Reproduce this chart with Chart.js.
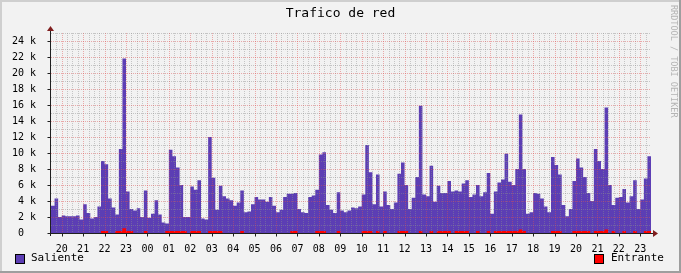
<!DOCTYPE html>
<html>
<head>
<meta charset="utf-8">
<script src="https://cdn.jsdelivr.net/npm/chart.js@4"></script>
<style>
    html, body { margin: 0; padding: 0; background: #f2f2f2; }
    #lienzo { position: absolute; left: 0; top: 0; }
    .borde { position: absolute; }
    .texto { position: absolute; font-family: "DejaVu Sans Mono", monospace; color: #000; white-space: pre; }
    .caja { position: absolute; width: 8px; height: 8px; border: 1px solid #000; }
</style>
</head>
<body>
<canvas id="lienzo" width="681" height="273"></canvas>

<div class="borde" style="left:0;top:0;width:681px;height:2px;background:#cfcfcf"></div>
<div class="borde" style="left:0;top:0;width:2px;height:273px;background:#cfcfcf"></div>
<div class="borde" style="left:679px;top:0;width:2px;height:273px;background:#9e9e9e"></div>
<div class="borde" style="left:0;top:271px;width:681px;height:2px;background:#9e9e9e"></div>

<div class="texto" style="left:0;width:681px;top:5px;text-align:center;font-size:13px">Trafico de red</div>
<div class="texto" style="left:669px;top:5px;font-size:8.5px;color:#b4b4b4;writing-mode:vertical-rl">RRDTOOL / TOBI OETIKER</div>

<div class="caja" style="left:15px;top:254px;background:#5c3eb4"></div>
<div class="texto" style="left:31px;top:251px;font-size:11px">Saliente</div>
<div class="caja" style="left:594px;top:254px;background:#ff0000"></div>
<div class="texto" style="left:611px;top:251px;font-size:11px">Entrante</div>

<script>
// etiquetas de hora (desde las 20 hasta las 23 del dia siguiente)
var horas = ['20', '21', '22', '23', '00', '01', '02', '03', '04', '05', '06', '07', '08', '09',
             '10', '11', '12', '13', '14', '15', '16', '17', '18', '19', '20', '21', '22', '23'];

// trafico saliente, en miles, una muestra cada 10 minutos desde las 19:30
var saliente = [
    3.4, 4.3, 2.0, 2.2, 2.1, 2.1,
    2.1, 2.2, 1.7, 3.6, 2.5, 1.8,
    2.0, 3.3, 9.0, 8.6, 4.3, 3.2,
    2.3, 10.5, 21.8, 5.2, 3.0, 2.8,
    3.1, 2.0, 5.3, 1.9, 2.4, 4.1,
    2.3, 1.3, 1.2, 10.4, 9.6, 8.2,
    6.0, 2.0, 2.0, 5.8, 5.4, 6.6,
    1.8, 1.7, 12.0, 6.9, 2.9, 5.9,
    4.6, 4.3, 4.1, 3.4, 3.8, 5.3,
    2.6, 2.7, 3.6, 4.5, 4.2, 4.2,
    3.9, 4.5, 3.4, 2.6, 2.9, 4.5,
    4.9, 4.9, 5.0, 3.0, 2.6, 2.5,
    4.5, 4.7, 5.4, 9.8, 10.1, 3.5,
    2.9, 2.5, 5.1, 2.8, 2.6, 2.8,
    3.2, 3.1, 3.3, 4.8, 11.0, 7.6,
    3.6, 7.3, 3.3, 5.2, 3.5, 3.0,
    3.8, 7.4, 8.8, 6.0, 3.0, 4.4,
    7.0, 15.9, 4.8, 4.6, 8.4, 3.9,
    5.9, 5.0, 5.0, 6.5, 5.2, 5.3,
    5.2, 6.2, 6.6, 4.5, 4.8, 6.0,
    4.6, 5.1, 7.5, 2.4, 5.2, 6.3,
    6.7, 9.9, 6.4, 6.0, 8.0, 14.8,
    8.0, 2.4, 2.6, 5.0, 4.9, 4.3,
    3.3, 2.6, 9.5, 8.5, 7.3, 3.5,
    2.1, 3.0, 6.5, 9.3, 8.2, 7.0,
    5.0, 4.0, 10.5, 9.0, 8.0, 15.7,
    6.0, 3.5, 4.4, 4.5, 5.5, 3.8,
    4.6, 6.6, 3.0, 4.2, 6.8, 9.6
];

// trafico entrante, en miles
var entrante = [
    0, 0, 0, 0, 0, 0,
    0, 0, 0, 0, 0, 0,
    0, 0, 0.25, 0.25, 0, 0,
    0.25, 0.25, 0.6, 0.25, 0.25, 0,
    0, 0, 0.25, 0, 0, 0,
    0, 0, 0.25, 0.25, 0.25, 0.25,
    0.25, 0.25, 0, 0.25, 0.25, 0.25,
    0, 0, 0.25, 0.25, 0.25, 0.25,
    0, 0, 0, 0, 0, 0.25,
    0, 0, 0, 0, 0, 0,
    0, 0, 0, 0, 0, 0,
    0, 0.25, 0.25, 0, 0, 0,
    0, 0, 0.25, 0.25, 0.25, 0,
    0, 0, 0.25, 0, 0, 0,
    0, 0, 0, 0.25, 0.25, 0.25,
    0, 0.25, 0, 0.25, 0, 0,
    0, 0.25, 0.25, 0.25, 0, 0,
    0, 0.25, 0, 0, 0.25, 0,
    0.25, 0.25, 0.25, 0.25, 0, 0.25,
    0.25, 0.25, 0.25, 0, 0, 0.25,
    0, 0, 0.25, 0, 0.25, 0.25,
    0.25, 0.25, 0.25, 0.25, 0.25, 0.45,
    0.25, 0, 0, 0, 0, 0,
    0, 0, 0.25, 0.25, 0.25, 0,
    0, 0, 0.25, 0.25, 0.25, 0.25,
    0.25, 0, 0.25, 0.25, 0.25, 0.45,
    0, 0.25, 0, 0, 0.25, 0,
    0, 0.25, 0, 0, 0.25, 0.25
];

var HORA_INICIO = 19.5;
var MUESTRAS_HORA = 6;
var FUENTE = '"DejaVu Sans Mono", monospace';

var CrearPuntos = function (valores) {
    var puntos = [];
    for (var i = 0; i < valores.length; i++) {
        puntos.push({ x: HORA_INICIO + i / MUESTRAS_HORA, y: valores[i] });
    }
    // cierre del ultimo escalon
    puntos.push({ x: HORA_INICIO + valores.length / MUESTRAS_HORA, y: valores[valores.length - 1] });
    return puntos;
};

// rejilla punteada al estilo rrdtool, encima del area
var Rejilla = {
    id: 'rejilla',
    afterDatasetsDraw: function (chart) {
        var ctx = chart.ctx;
        var area = chart.chartArea;
        var ex = chart.scales.x;
        var ye = chart.scales.y;
        var h, v, px, py;

        ctx.save();
        ctx.lineWidth = 1;
        ctx.setLineDash([1, 1]);

        ctx.strokeStyle = 'rgba(143,143,143,0.45)';
        ctx.beginPath();
        for (h = ex.min + 0.25; h < ex.max; h += 0.25) {
            if (h % 1 === 0) continue;
            px = Math.round(ex.getPixelForValue(h)) + 0.5;
            ctx.moveTo(px, area.top);
            ctx.lineTo(px, area.bottom);
        }
        for (v = 1; v <= ye.max; v += 2) {
            py = Math.round(ye.getPixelForValue(v)) + 0.5;
            ctx.moveTo(area.left, py);
            ctx.lineTo(area.right, py);
        }
        ctx.stroke();

        ctx.strokeStyle = 'rgba(222,79,79,0.45)';
        ctx.beginPath();
        for (h = Math.ceil(ex.min); h < ex.max; h += 1) {
            px = Math.round(ex.getPixelForValue(h)) + 0.5;
            ctx.moveTo(px, area.top);
            ctx.lineTo(px, area.bottom);
        }
        for (v = 2; v < ye.max; v += 2) {
            py = Math.round(ye.getPixelForValue(v)) + 0.5;
            ctx.moveTo(area.left, py);
            ctx.lineTo(area.right, py);
        }
        ctx.stroke();
        ctx.restore();
    },
    afterDraw: function (chart) {
        var ctx = chart.ctx;
        var area = chart.chartArea;
        var ex = chart.scales.x;
        var ye = chart.scales.y;
        var izq = area.left - 0.5;
        var base = area.bottom + 0.5;
        var h, v, px, py;

        ctx.save();
        ctx.lineWidth = 1;
        ctx.strokeStyle = '#1f1f1f';
        ctx.beginPath();
        ctx.moveTo(izq, area.bottom + 3);
        ctx.lineTo(izq, area.top - 2);
        ctx.moveTo(area.left - 3, base);
        ctx.lineTo(area.right + 3, base);
        for (v = 0; v < ye.max; v += 2) {
            py = Math.round(ye.getPixelForValue(v)) + 0.5;
            ctx.moveTo(izq - 3, py);
            ctx.lineTo(izq, py);
        }
        for (h = Math.ceil(ex.min); h < ex.max; h += 1) {
            px = Math.round(ex.getPixelForValue(h)) + 0.5;
            ctx.moveTo(px, base);
            ctx.lineTo(px, base + 3);
        }
        ctx.stroke();

        // flechas
        ctx.fillStyle = '#801f1f';
        ctx.beginPath();
        ctx.moveTo(izq, area.top - 7);
        ctx.lineTo(izq - 3.5, area.top - 2);
        ctx.lineTo(izq + 3.5, area.top - 2);
        ctx.closePath();
        ctx.fill();
        ctx.beginPath();
        ctx.moveTo(area.right + 7, base);
        ctx.lineTo(area.right + 2, base - 3.5);
        ctx.lineTo(area.right + 2, base + 3.5);
        ctx.closePath();
        ctx.fill();
        ctx.restore();
    }
};

var CrearGrafica = function () {
    var lienzo = document.getElementById('lienzo').getContext('2d');
    new Chart(lienzo, {
        type: 'line',
        data: {
            datasets: [{
                label: 'Entrante',
                data: CrearPuntos(entrante),
                stepped: true,
                fill: 'origin',
                backgroundColor: '#ff0000',
                borderWidth: 0,
                pointRadius: 0,
                order: 0
            }, {
                label: 'Saliente',
                data: CrearPuntos(saliente),
                stepped: true,
                fill: 'origin',
                backgroundColor: '#5c3eb4',
                borderWidth: 0,
                pointRadius: 0,
                order: 1
            }]
        },
        options: {
            responsive: false,
            animation: false,
            devicePixelRatio: 1,
            layout: { padding: { top: 33, right: 30, left: 0, bottom: 0 } },
            plugins: { legend: { display: false }, tooltip: { enabled: false } },
            scales: {
                x: {
                    type: 'linear',
                    min: HORA_INICIO,
                    max: HORA_INICIO + saliente.length / MUESTRAS_HORA,
                    grid: { display: false },
                    border: { display: false },
                    afterBuildTicks: function (escala) {
                        escala.ticks = horas.map(function (e, i) { return { value: Math.ceil(HORA_INICIO) + i }; });
                    },
                    afterFit: function (escala) { escala.height = 40; },
                    ticks: {
                        autoSkip: false,
                        maxRotation: 0,
                        padding: 2,
                        color: '#000',
                        font: { family: FUENTE, size: 10 },
                        callback: function (valor, indice) { return horas[indice]; }
                    }
                },
                y: {
                    min: 0,
                    max: 25,
                    grid: { display: false },
                    border: { display: false },
                    afterBuildTicks: function (escala) {
                        var marcas = [];
                        for (var v = 0; v <= 24; v += 2) marcas.push({ value: v });
                        escala.ticks = marcas;
                    },
                    afterFit: function (escala) { escala.width = 51; },
                    ticks: {
                        padding: 7,
                        color: '#000',
                        font: { family: FUENTE, size: 10 },
                        callback: function (valor) { return valor === 0 ? '0  ' : valor + ' k'; }
                    }
                }
            }
        },
        plugins: [Rejilla]
    });
};

CrearGrafica();
</script>
</body>
</html>
